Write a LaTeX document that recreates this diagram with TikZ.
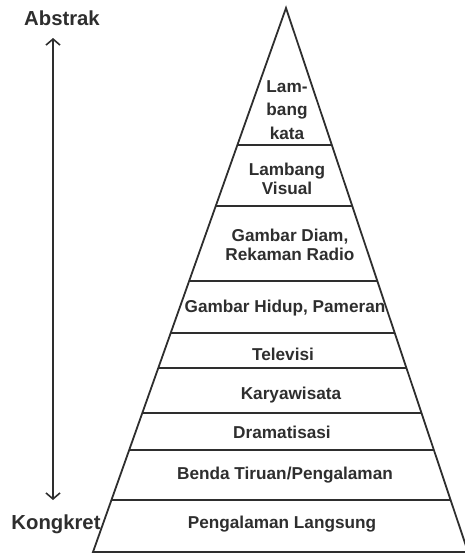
\documentclass[tikz,border=0pt]{standalone}
\usepackage{fontspec}
\setmainfont{Liberation Sans}
\usetikzlibrary{calc,arrows.meta}
\definecolor{inkgray}{HTML}{2E2E2E}
\tikzset{
  layer/.style={font=\fontsize{17.2}{19}\selectfont\bfseries, text=inkgray, align=center, inner sep=0pt},
  pole/.style={font=\fontsize{20.3}{22}\selectfont\bfseries, text=inkgray, inner sep=0pt},
  edge/.style={draw=inkgray, line width=1.8pt, line join=miter}
}
\begin{document}
\begin{tikzpicture}[x=1pt,y=-1pt]
\useasboundingbox (0,0) rectangle (464,554);
\coordinate (apex) at (286,8);
\coordinate (bl) at (93,552);
\coordinate (br) at (468,552);
\draw[edge] (bl) -- (apex) -- (br) -- cycle;
\foreach \t in {0.2518,0.364,0.502,0.597,0.662,0.7445,0.8125,0.904}
  \draw[edge] ($(apex)!\t!(bl)$) -- ($(apex)!\t!(br)$);
\node[layer, font=\fontsize{17.2}{23.5}\selectfont\bfseries] (kata) at (287,110) {Lam-\\bang\\kata};
\node[layer] (visual) at (287,179) {Lambang\\Visual};
\node[layer] (diam) at (290,245) {Gambar Diam,\\Rekaman Radio};
\node[layer] (hidup) at (285,308) {Gambar Hidup, Pameran};
\node[layer] (tv) at (283,354) {Televisi};
\node[layer] (wisata) at (291,395) {Karyawisata};
\node[layer] (drama) at (282,432) {Dramatisasi};
\node[layer] (tiruan) at (285,475) {Benda Tiruan/Pengalaman};
\node[layer] (langsung) at (282,524) {Pengalaman Langsung};
\node[pole] (abstrak) at (62,18) {Abstrak};
\node[pole] (kongkret) at (56,524) {Kongkret};
\coordinate (top) at (53,38);
\coordinate (bottom) at (53,500);
\draw[draw=inkgray, line width=1.6pt, {Straight Barb[length=6pt,width=14pt]}-{Straight Barb[length=6pt,width=14pt]}] (top) -- (bottom);
\end{tikzpicture}
\end{document}
